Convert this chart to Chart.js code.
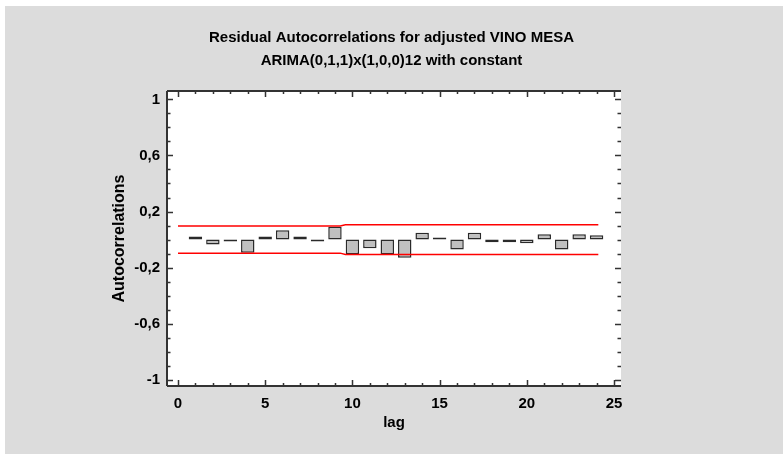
<!DOCTYPE html>
<html>
<head>
<meta charset="utf-8">
<script src="https://cdn.jsdelivr.net/npm/chart.js@4.4.1/dist/chart.umd.min.js"></script>
<style>
  html, body { margin: 0; padding: 0; background: #ffffff; }
  #wrap { width: 783px; height: 454px; }
</style>
</head>
<body>
<div id="wrap"><canvas id="c" width="783" height="454"></canvas></div>
<script>
// ---- data ----
const titleLines = ['Residual Autocorrelations for adjusted VINO MESA', 'ARIMA(0,1,1)x(1,0,0)12 with constant'];
const lags = [1, 2, 3, 4, 5, 6, 7, 8, 9, 10, 11, 12, 13, 14, 15, 16, 17, 18, 19, 20, 21, 22, 23, 24];
const autocorrelations = [0.021, -0.035, -0.002, -0.094, 0.021, 0.066, 0.021, -0.002, 0.092, -0.104,
                          -0.062, -0.106, -0.13, 0.048, 0.002, -0.071, 0.048, -0.019, -0.019, -0.026,
                          0.038, -0.071, 0.038, 0.031];
const limitLags = [0, 9.3, 9.6, 24.1];
const upperLimit = [0.097, 0.097, 0.106, 0.106];
const lowerLimit = [-0.097, -0.097, -0.106, -0.106];
const yTickLabels = { '1': '1', '0.6': '0,6', '0.2': '0,2', '-0.2': '-0,2', '-0.6': '-0,6', '-1': '-1' };
const xTickLabels = { '0': '0', '5': '5', '10': '10', '15': '15', '20': '20', '25': '25' };

const FONT = "'Liberation Sans', Arial, sans-serif";
const AXIS_COLOR = '#333333';
const Y_MIN = -1.045, Y_MAX = 1.06;

function keyOf(v) { return String(Math.round(v * 10) / 10); }

const framePlugin = {
  id: 'frame',
  beforeDraw(chart) {
    const ctx = chart.ctx;
    const a = chart.chartArea;
    ctx.save();
    ctx.fillStyle = '#ffffff';
    ctx.fillRect(0, 0, chart.width, chart.height);
    ctx.fillStyle = '#dcdcdc';
    ctx.fillRect(5, 6, chart.width - 5, chart.height - 6);
    ctx.fillStyle = '#ffffff';
    ctx.fillRect(a.left, a.top, a.right - a.left, a.bottom - a.top);
    ctx.restore();
  },
  afterDraw(chart) {
    const ctx = chart.ctx;
    const a = chart.chartArea;
    const xs = chart.scales.x, ys = chart.scales.y;
    ctx.save();
    ctx.strokeStyle = AXIS_COLOR;
    ctx.lineWidth = 1.5;
    ctx.beginPath();
    ys.ticks.forEach(t => {
      const py = Math.round(ys.getPixelForValue(t.value)) + 0.5;
      const major = yTickLabels[keyOf(t.value)] !== undefined;
      const len = major ? 6 : 3.5;
      ctx.moveTo(a.left, py); ctx.lineTo(a.left + len, py);
      ctx.moveTo(a.right, py); ctx.lineTo(a.right - len, py);
    });
    xs.ticks.forEach(t => {
      const px = Math.round(xs.getPixelForValue(t.value)) + 0.5;
      const major = xTickLabels[keyOf(t.value)] !== undefined;
      const len = major ? 6 : 3;
      ctx.moveTo(px, a.bottom); ctx.lineTo(px, a.bottom - len);
      ctx.moveTo(px, a.top); ctx.lineTo(px, a.top + len);
    });
    ctx.stroke();
    ctx.lineWidth = 2;
    ctx.beginPath();
    ctx.moveTo(a.left, a.top); ctx.lineTo(a.left, a.bottom);
    ctx.moveTo(a.left, a.bottom); ctx.lineTo(a.right, a.bottom);
    ctx.moveTo(a.left, a.top); ctx.lineTo(a.right, a.top);
    ctx.stroke();
    ctx.restore();
  }
};

new Chart(document.getElementById('c'), {
  type: 'bar',
  data: {
    datasets: [
      {
        type: 'line',
        data: limitLags.map((x, i) => ({ x: x, y: upperLimit[i] })),
        borderColor: '#ff0000', borderWidth: 1.5, pointRadius: 0, fill: false, tension: 0, order: 0
      },
      {
        type: 'line',
        data: limitLags.map((x, i) => ({ x: x, y: lowerLimit[i] })),
        borderColor: '#ff0000', borderWidth: 1.5, pointRadius: 0, fill: false, tension: 0, order: 0
      },
      {
        type: 'bar',
        data: lags.map((x, i) => ({ x: x, y: autocorrelations[i] })),
        backgroundColor: '#c0c0c0',
        borderColor: '#2a2a2a',
        borderWidth: 1.5,
        borderSkipped: false,
        minBarLength: 2,
        barPercentage: 0.77,
        categoryPercentage: 1,
        order: 1
      }
    ]
  },
  options: {
    responsive: false,
    animation: false,
    devicePixelRatio: 1,
    layout: { padding: { left: 5, right: 5, top: 6, bottom: 18 } },
    plugins: {
      legend: { display: false },
      tooltip: { enabled: false },
      title: {
        display: true,
        text: titleLines,
        color: '#000000',
        font: { family: FONT, size: 15, weight: 'bold', lineHeight: 23 / 15 },
        padding: { top: 20.5, bottom: 18.5 }
      }
    },
    scales: {
      x: {
        type: 'linear',
        min: -0.63,
        max: 25.4,
        offset: false,
        grid: { display: false, drawTicks: false },
        border: { display: false },
        ticks: {
          stepSize: 1,
          autoSkip: false,
          includeBounds: false,
          maxRotation: 0,
          padding: 9,
          color: '#000000',
          font: { family: FONT, size: 15, weight: 'bold' },
          callback: v => xTickLabels[keyOf(v)] ?? ''
        },
        title: {
          display: true, text: 'lag', color: '#000000',
          font: { family: FONT, size: 15, weight: 'bold' },
          padding: { top: 0, bottom: 4 }
        },
        afterFit(s) { s.height = 50; }
      },
      y: {
        type: 'linear',
        position: 'left',
        min: Y_MIN,
        max: Y_MAX,
        grid: { display: false, drawTicks: false },
        border: { display: false },
        ticks: {
          stepSize: 0.1,
          autoSkip: false,
          includeBounds: false,
          padding: 7,
          color: '#000000',
          font: { family: FONT, size: 15, weight: 'bold' },
          callback: v => yTickLabels[keyOf(v)] ?? ''
        },
        title: {
          display: true, text: 'Autocorrelations', color: '#000000',
          font: { family: FONT, size: 16, weight: 'bold' },
          padding: { top: 104.6, bottom: 0 }
        },
        afterFit(s) { s.width = 162; }
      },
      y2: {
        type: 'linear',
        position: 'right',
        min: Y_MIN,
        max: Y_MAX,
        grid: { display: false, drawTicks: false },
        border: { display: false },
        ticks: { display: false },
        afterFit(s) { s.width = 157; }
      }
    }
  },
  plugins: [framePlugin]
});
</script>
</body>
</html>
